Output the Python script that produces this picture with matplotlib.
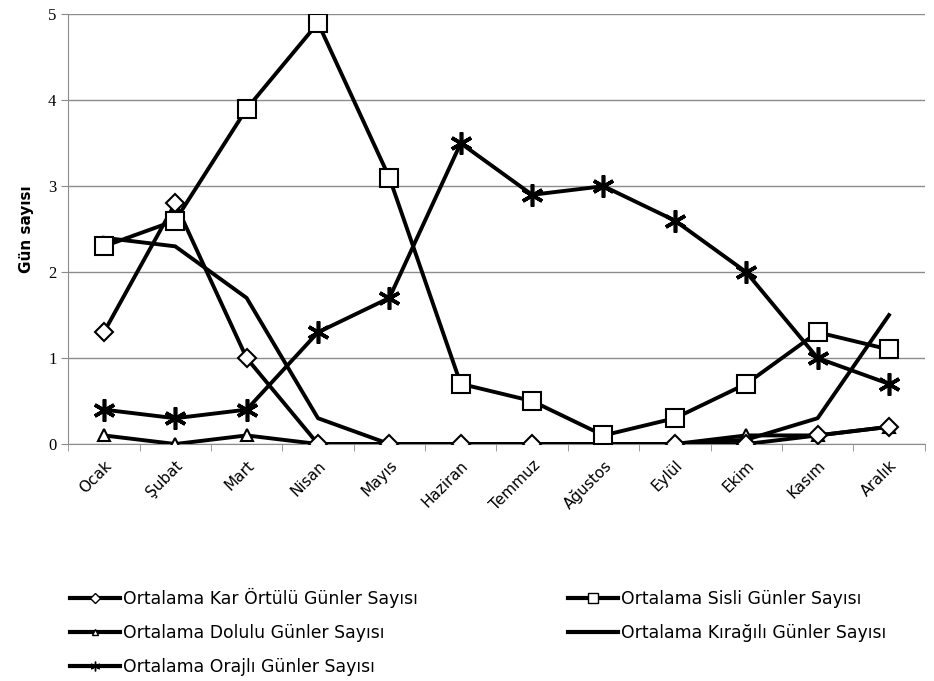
import numpy as np
import matplotlib.pyplot as plt
from matplotlib.lines import Line2D

months = ['Ocak', 'Şubat', 'Mart', 'Nisan', 'Mayıs', 'Haziran',
          'Temmuz', 'Ağustos', 'Eylül', 'Ekim', 'Kasım', 'Aralık']

kar = [1.3, 2.8, 1.0, 0, 0, 0, 0, 0, 0, 0, 0.1, 0.2]
sisli = [2.3, 2.6, 3.9, 4.9, 3.1, 0.7, 0.5, 0.1, 0.3, 0.7, 1.3, 1.1]
dolu = [0.1, 0, 0.1, 0, 0, 0, 0, 0, 0, 0.1, 0.1, 0.2]
kiragi = [2.4, 2.3, 1.7, 0.3, 0, 0, 0, 0, 0, 0.05, 0.3, 1.5]
oraj = [0.4, 0.3, 0.4, 1.3, 1.7, 3.5, 2.9, 3.0, 2.6, 2.0, 1.0, 0.7]

labels = ['Ortalama Kar Örtülü Günler Sayısı', 'Ortalama Sisli Günler Sayısı',
          'Ortalama Dolulu Günler Sayısı', 'Ortalama Kırağılı Günler Sayısı',
          'Ortalama Orajlı Günler Sayısı']

plt.rcParams['font.family'] = ['DejaVu Sans']

fig = plt.figure(figsize=(9.34, 6.81), dpi=100)
ax = fig.add_axes([0.073, 0.348, 0.917, 0.631])

x = np.arange(len(months))
lw = 2.8
mk = dict(markerfacecolor='white', markeredgecolor='black', markeredgewidth=1.5)

ax.plot(x, kiragi, color='black', lw=lw, zorder=3)
ax.plot(x, dolu, color='black', lw=lw, marker='^', markersize=9, zorder=3, **mk)
ax.plot(x, kar, color='black', lw=lw, marker='D', markersize=9, zorder=3, **mk)
ax.plot(x, sisli, color='black', lw=lw, marker='s', markersize=13, zorder=4, **mk)
ax.plot(x, oraj, color='black', lw=lw, marker=(6, 2, 0), markersize=16,
        markeredgewidth=2.6, zorder=4)

ax.set_xlim(-0.5, 11.5)
ax.set_ylim(0, 5)
ax.set_yticks(range(6))
ax.set_yticklabels([str(i) for i in range(6)], fontsize=12, family='Liberation Serif')
ax.yaxis.grid(True, color='#8c8c8c', lw=1)
ax.set_axisbelow(True)

ax.set_xticks(x)
ax.set_xticklabels(months, rotation=45, ha='right', rotation_mode='anchor', fontsize=11)
ax.set_xticks(np.arange(-0.5, 12, 1), minor=True)
ax.tick_params(axis='x', which='major', length=0, pad=10)
ax.tick_params(axis='x', which='minor', length=5, color='#8c8c8c')
ax.tick_params(axis='y', length=5, color='#8c8c8c')

for s in ['top', 'right']:
    ax.spines[s].set_visible(False)
ax.spines['left'].set_color('#8c8c8c')
ax.spines['bottom'].set_color('#8c8c8c')

ax.set_ylabel('Gün sayısı', fontsize=11, fontweight='bold', labelpad=10)

hk = dict(color='black', lw=3, markerfacecolor='white', markeredgecolor='black')
h_kar = Line2D([], [], marker='D', markersize=5, **hk)
h_sis = Line2D([], [], marker='s', markersize=7, **hk)
h_dol = Line2D([], [], marker='^', markersize=5, **hk)
h_kir = Line2D([], [], **hk)
h_ora = Line2D([], [], marker=(6, 2, 0), markersize=7, **hk)

fig.legend([h_kar, h_dol, h_ora, h_sis, h_kir],
           [labels[0], labels[2], labels[4], labels[1], labels[3]],
           ncol=2, loc='upper left', bbox_to_anchor=(0.058, 0.16),
           frameon=False, fontsize=12.4, handlelength=2.9, handletextpad=0.2,
           columnspacing=8.7, labelspacing=0.95)

fig.savefig('out.png', dpi=100)
